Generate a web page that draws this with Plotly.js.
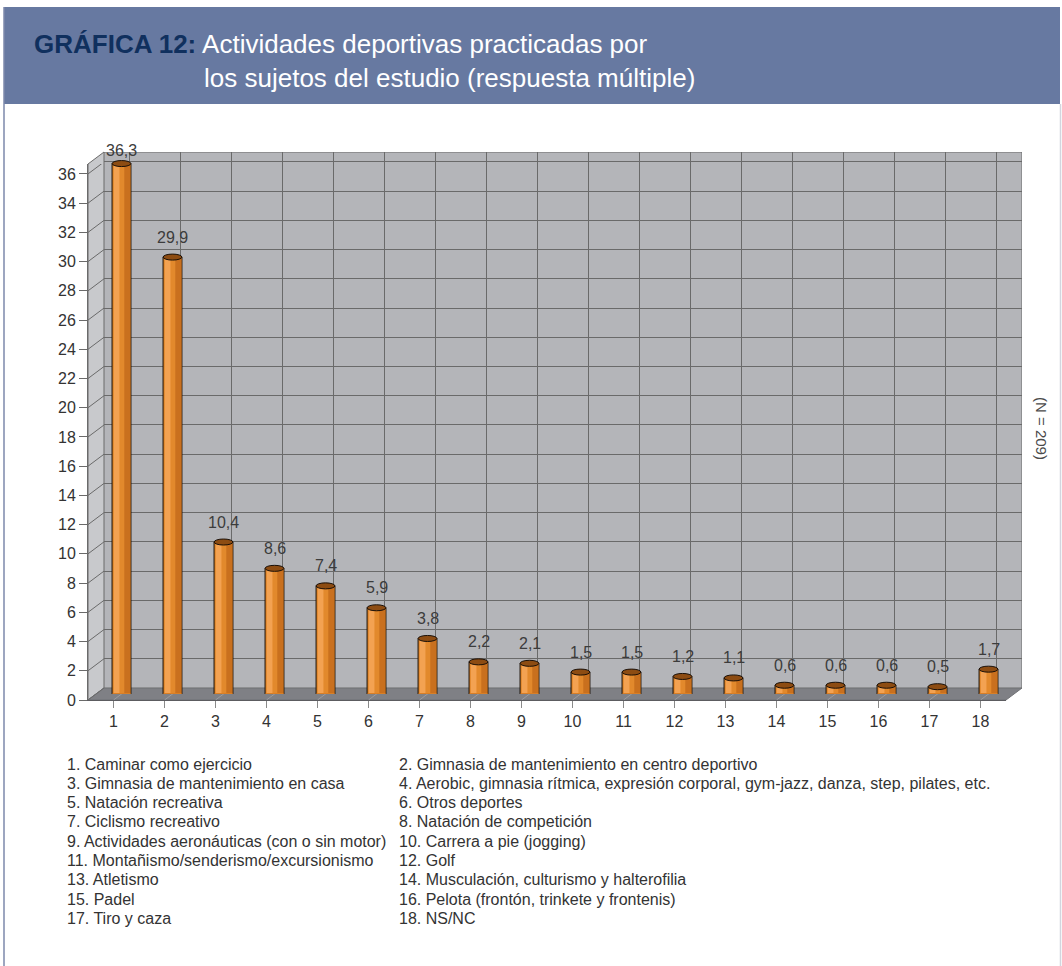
<!DOCTYPE html>
<html>
<head>
<meta charset="utf-8">
<script src="https://cdn.plot.ly/plotly-3.0.1.min.js"></script>
<style>html,body{margin:0;padding:0;background:#fff}#chart{width:1062px;height:966px}</style>
</head>
<body>
<div id="chart"></div>
<script>
// ---- data ----
const categories = ['1','2','3','4','5','6','7','8','9','10','11','12','13','14','15','16','17','18'];
const values = [36.3, 29.9, 10.4, 8.6, 7.4, 5.9, 3.8, 2.2, 2.1, 1.5, 1.5, 1.2, 1.1, 0.6, 0.6, 0.6, 0.5, 1.7];
const valueLabels = ['36,3','29,9','10,4','8,6','7,4','5,9','3,8','2,2','2,1','1,5','1,5','1,2','1,1','0,6','0,6','0,6','0,5','1,7'];
const yTickVals = [0,2,4,6,8,10,12,14,16,18,20,22,24,26,28,30,32,34,36];
const legendItems = [
  '1. Caminar como ejercicio',
  '2. Gimnasia de mantenimiento en centro deportivo',
  '3. Gimnasia de mantenimiento en casa',
  '4. Aerobic, gimnasia rítmica, expresión corporal, gym-jazz, danza, step, pilates, etc.',
  '5. Natación recreativa',
  '6. Otros deportes',
  '7. Ciclismo recreativo',
  '8. Natación de competición',
  '9. Actividades aeronáuticas (con o sin motor)',
  '10. Carrera a pie (jogging)',
  '11. Montañismo/senderismo/excursionismo',
  '12. Golf',
  '13. Atletismo',
  '14. Musculación, culturismo y halterofilia',
  '15. Padel',
  '16. Pelota (frontón, trinkete y frontenis)',
  '17. Tiro y caza',
  '18. NS/NC'
];
const titleBold = 'GRÁFICA 12:';
const titleLine1 = 'Actividades deportivas practicadas por';
const titleLine2 = 'los sujetos del estudio (respuesta múltiple)';
const noteText = '(N = 209)';

// ---- layout helpers ----
const W = 1062, H = 966;
const px = x => x / W;
const py = y => 1 - y / H;
const FONT = 'Liberation Sans, Arial, Helvetica, sans-serif';
const xPos = categories.map(Number);
const yMax = 36.68;
const DX = 16, DY = 12;            // depth offset in pixels
const FL = 88, FR = 1006, FB = 700, FT = 164; // front frame
const pxPerUnit = (FB - FT) / yMax;

const wallColor = '#b4b5b9', sideColor = '#c8c9cc', floorColor = '#7f8085', gridColor = '#6a6a6a';

const traces = [];
traces.push({
  type: 'bar', x: xPos, y: values, xaxis: 'x3', yaxis: 'y3',
  width: 0.37, offset: -0.185,
  marker: {color: '#e2892c', line: {color: '#1a1008', width: 1}},
  hoverinfo: 'skip', showlegend: false
});
traces.push({
  type: 'bar', x: xPos, y: values, xaxis: 'x3', yaxis: 'y3',
  width: 0.11, offset: -0.15,
  marker: {color: '#f3a252', line: {width: 0}},
  hoverinfo: 'skip', showlegend: false
});
traces.push({
  type: 'bar', x: xPos, y: values, xaxis: 'x3', yaxis: 'y3',
  width: 0.12, offset: 0.055,
  marker: {color: '#c9701e', line: {width: 0}},
  hoverinfo: 'skip', showlegend: false
});

const shapes = [];
shapes.push({type:'rect', xref:'paper', yref:'paper', x0:px(4), x1:px(1060), y0:py(7), y1:py(104),
  fillcolor:'#6779a1', line:{width:0}, layer:'below'});
shapes.push({type:'line', xref:'paper', yref:'paper', x0:px(1060.5), x1:px(1060.5), y0:py(966), y1:py(104),
  line:{color:'#d3d5de', width:1.5}, layer:'below'});
shapes.push({type:'line', xref:'paper', yref:'paper', x0:px(4), x1:px(4), y0:py(966), y1:py(7),
  line:{color:'#7d88ab', width:1.5}, layer:'below'});
shapes.push({type:'rect', xref:'x2', yref:'y2', x0:0.5, x1:18.5, y0:0, y1:yMax,
  fillcolor:wallColor, line:{color:gridColor, width:1}, layer:'below'});
shapes.push({type:'path', xref:'paper', yref:'paper',
  path:`M${px(FL)},${py(FB)} L${px(FL+DX)},${py(FB-DY)} L${px(FL+DX)},${py(FT-DY)} L${px(FL)},${py(FT)} Z`,
  fillcolor:sideColor, line:{color:gridColor, width:1}, layer:'below'});
shapes.push({type:'path', xref:'paper', yref:'paper',
  path:`M${px(FL)},${py(FB)} L${px(FR)},${py(FB)} L${px(FR+DX)},${py(FB-DY)} L${px(FL+DX)},${py(FB-DY)} Z`,
  fillcolor:floorColor, line:{color:'#6f7075', width:1}, layer:'below'});
yTickVals.forEach(v => {
  shapes.push({type:'line', xref:'x', yref:'y', xsizemode:'pixel', ysizemode:'pixel',
    xanchor:0.5, yanchor:v, x0:0, x1:DX, y0:0, y1:DY, line:{color:gridColor, width:1}, layer:'below'});
});
xPos.forEach(c => {
  shapes.push({type:'line', xref:'x', yref:'y', xsizemode:'pixel', ysizemode:'pixel',
    xanchor:c, yanchor:0, x0:0, x1:DX, y0:0, y1:DY, line:{color:'#9a9a9e', width:1}, layer:'below'});
});
xPos.forEach((c, i) => {
  shapes.push({type:'path', xref:'x3', yref:'y3', xsizemode:'pixel', ysizemode:'pixel',
    xanchor:c, yanchor:0, path:'M-9,1 L9,1 L9,0 C9,-4 -9,-4 -9,0 Z',
    fillcolor:'#d97f26', line:{width:0}, layer:'above'});
  shapes.push({type:'path', xref:'x3', yref:'y3', xsizemode:'pixel', ysizemode:'pixel',
    xanchor:c, yanchor:0, path:'M-9.4,0 C-9.4,-4 9.4,-4 9.4,0',
    line:{color:'#1a1008', width:1}, layer:'above'});
  shapes.push({type:'circle', xref:'x3', yref:'y3', xsizemode:'pixel', ysizemode:'pixel',
    xanchor:c, yanchor:values[i], x0:-9.4, x1:9.4, y0:-3, y1:3,
    fillcolor:'#8d4c12', line:{color:'#1a1008', width:1}, layer:'above'});
});

const annotations = [];
annotations.push({xref:'paper', yref:'paper', x:px(32), y:py(44), xanchor:'left', yanchor:'middle',
  text:'<b><span style="color:#10305e">'+titleBold+'</span></b> '+titleLine1, showarrow:false,
  font:{family:FONT, size:26, color:'#ffffff'}});
annotations.push({xref:'paper', yref:'paper', x:px(202), y:py(78), xanchor:'left', yanchor:'middle',
  text:titleLine2, showarrow:false, font:{family:FONT, size:26, color:'#ffffff'}});
values.forEach((v, i) => {
  const topPx = (FB - DY/2) - v * pxPerUnit;
  annotations.push({xref:'x3', yref:'y3', x:xPos[i], y:v, yshift:Math.min(20, topPx - 151),
    xanchor:'center', yanchor:'middle',
    text:valueLabels[i], showarrow:false, font:{family:FONT, size:16, color:'#3c3c3c'}});
});
legendItems.forEach((t, i) => {
  const col = i % 2, row = Math.floor(i / 2);
  annotations.push({xref:'paper', yref:'paper', x:px(col ? 397 : 65), y:py(764 + row * 19.3),
    xanchor:'left', yanchor:'middle', text:t, showarrow:false,
    font:{family:FONT, size:16, color:'#333333'}});
});
annotations.push({xref:'paper', yref:'paper', x:px(1042), y:py(428), xanchor:'center', yanchor:'middle',
  text:noteText, textangle:90, showarrow:false, font:{family:FONT, size:15, color:'#4a4a4a'}});

const layout = {
  width: W, height: H,
  margin: {l:0, r:0, t:0, b:0, pad:0},
  paper_bgcolor: '#ffffff', plot_bgcolor: 'rgba(0,0,0,0)',
  showlegend: false, barmode: 'overlay',
  font: {family: FONT, color: '#333'},
  xaxis: {domain:[px(FL), px(FR)], range:[0.5, 18.5], anchor:'y', tickvals:xPos, ticktext:categories,
    ticks:'outside', ticklen:7, tickcolor:'#8a8a8a', showgrid:false, zeroline:false,
    showline:true, linecolor:'#5c5c60', tickfont:{family:FONT, size:16, color:'#333'}, fixedrange:true},
  yaxis: {domain:[py(FB), py(FT)], range:[0, yMax], anchor:'x', tickvals:yTickVals,
    ticks:'outside', ticklen:8, tickcolor:'#6a6a6a', showgrid:false, zeroline:false,
    showline:true, linecolor:'#6a6a6a', tickfont:{family:FONT, size:16, color:'#333'}, fixedrange:true},
  xaxis2: {domain:[px(FL+DX), px(FR+DX)], range:[0.5, 18.5], anchor:'y2', tickvals:xPos,
    showticklabels:false, ticks:'', showgrid:true, gridcolor:gridColor, gridwidth:1, zeroline:false, showline:false},
  yaxis2: {domain:[py(FB-DY), py(FT-DY)], range:[0, yMax], anchor:'x2', tickvals:yTickVals,
    showticklabels:false, ticks:'', showgrid:true, gridcolor:gridColor, gridwidth:1, zeroline:false, showline:false},
  xaxis3: {domain:[px(FL+DX/2), px(FR+DX/2)], range:[0.5, 18.5], anchor:'y3', visible:false},
  yaxis3: {domain:[py(FB-DY/2), py(FT-DY/2)], range:[0, yMax], anchor:'x3', visible:false},
  shapes: shapes,
  annotations: annotations
};

Plotly.newPlot('chart', traces, layout, {displayModeBar:false, staticPlot:true});
</script>
</body>
</html>
